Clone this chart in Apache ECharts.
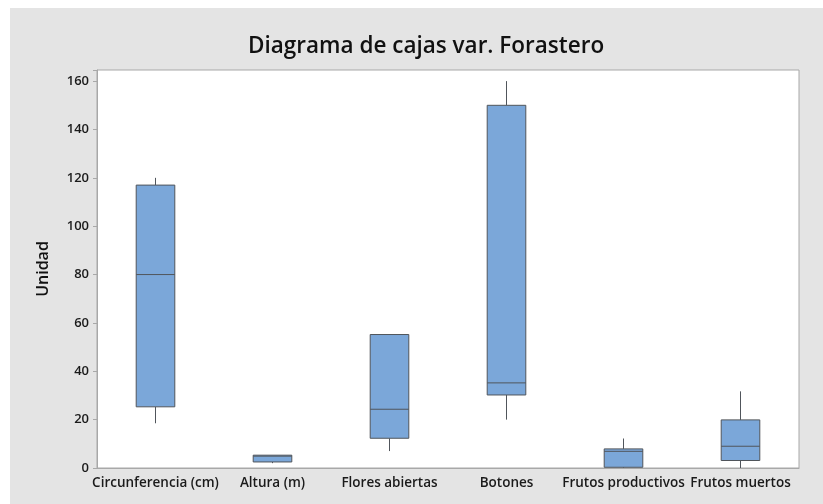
<!DOCTYPE html>
<html>
<head>
<meta charset="utf-8">
<script src="https://cdn.jsdelivr.net/npm/echarts@6/dist/echarts.min.js"></script>
<style>
  html, body { margin: 0; padding: 0; background: #fff; }
  #chart { width: 823px; height: 504px; }
</style>
</head>
<body>
<div id="chart"></div>
<script>
// categories and box stats: [min, Q1, median, Q3, max]
const categories = ['Circunferencia (cm)', 'Altura (m)', 'Flores abiertas', 'Botones', 'Frutos productivos', 'Frutos muertos']
const boxStats = [
  [18.5, 25.3, 80, 117, 120],
  [2, 2.5, 4.9, 5.3, 5.3],
  [7, 12.3, 24.3, 55.2, 55.2],
  [20, 30.2, 35.2, 150, 160],
  [0, 0.3, 6.9, 7.9, 12.2],
  [0, 3.1, 9, 19.9, 31.7]
]
const yTicks = [0, 20, 40, 60, 80, 100, 120, 140, 160]

const font = '"Open Sans", "DejaVu Sans", sans-serif'
const edge = '#50555b'
const chart = echarts.init(document.getElementById('chart'))

// minitab style box: no whisker caps
function renderBox(params, api) {
  const i = api.value(0)
  const lo = api.coord([i, api.value(1)])
  const q1 = api.coord([i, api.value(2)])
  const med = api.coord([i, api.value(3)])
  const q3 = api.coord([i, api.value(4)])
  const hi = api.coord([i, api.value(5)])
  const w = api.size([1, 0])[0] * 0.33
  const x = lo[0]
  const line = { stroke: edge, lineWidth: 1 }
  return {
    type: 'group',
    children: [
      { type: 'line', shape: { x1: x, y1: lo[1], x2: x, y2: q1[1] }, style: line },
      { type: 'line', shape: { x1: x, y1: q3[1], x2: x, y2: hi[1] }, style: line },
      { type: 'rect', shape: { x: x - w / 2, y: q3[1], width: w, height: q1[1] - q3[1] },
        style: { fill: '#7ba7d9', stroke: edge, lineWidth: 1 } },
      { type: 'line', shape: { x1: x - w / 2, y1: med[1], x2: x + w / 2, y2: med[1] }, style: line }
    ]
  }
}

const option = {
  backgroundColor: '#fff',
  animation: false,
  graphic: [{
    type: 'rect',
    z: -10,
    shape: { x: 10, y: 8, width: 813, height: 496 },
    style: { fill: '#e4e4e4' },
    silent: true
  }],
  title: {
    text: 'Diagrama de cajas var. Forastero',
    left: 243,
    top: 30,
    textStyle: { fontFamily: font, fontSize: 22.5, fontWeight: 600, color: '#111' }
  },
  grid: {
    left: 97, right: 24, top: 70, bottom: 36,
    show: true,
    backgroundColor: '#fff',
    borderColor: '#a8a8a8',
    borderWidth: 1
  },
  xAxis: {
    type: 'category',
    data: categories,
    boundaryGap: true,
    axisLine: { lineStyle: { color: '#a8a8a8' } },
    axisTick: { alignWithLabel: true, length: 4, lineStyle: { color: '#a8a8a8' } },
    axisLabel: { fontFamily: font, fontSize: 13.5, fontWeight: 600, color: '#1a1a1a', margin: 8, interval: 0 },
    splitLine: { show: false }
  },
  yAxis: {
    type: 'value',
    min: 0,
    max: 164.6,
    interval: 20,
    name: 'Unidad',
    nameLocation: 'middle',
    nameGap: 46,
    nameTextStyle: { fontFamily: font, fontSize: 16, fontWeight: 600, color: '#111' },
    axisLine: { show: true, lineStyle: { color: '#a8a8a8' } },
    axisTick: { show: true, length: 4, lineStyle: { color: '#a8a8a8' } },
    axisLabel: {
      fontFamily: font, fontSize: 13, fontWeight: 600, color: '#1a1a1a', margin: 8,
      formatter: v => yTicks.includes(v) ? String(v) : ''
    },
    splitLine: { show: false }
  },
  series: [{
    type: 'custom',
    renderItem: renderBox,
    encode: { x: 0, y: [1, 2, 3, 4, 5] },
    data: boxStats.map((s, i) => [i].concat(s)),
    silent: true
  }]
}
chart.setOption(option)
</script>
</body>
</html>
